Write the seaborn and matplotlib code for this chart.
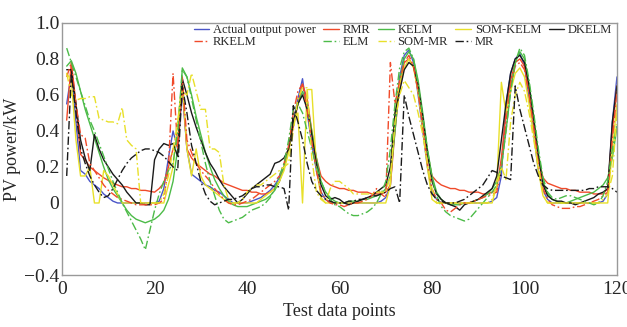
import numpy as np
import pandas as pd
import matplotlib
matplotlib.use("Agg")
import matplotlib.pyplot as plt
import seaborn as sns

x = list(range(1, 121))

actual = [.55,.72,.45,.18,.16,.12,.10,.08,.05,.03,.01,0,
          0,0,0,0,0,0,0,0,.01,.08,.25,.40,
          .30,.62,.30,.16,.14,.12,.10,.09,.07,.06,.04,.02,
          0,0,0,0,.01,.02,.03,.05,.07,.10,.14,.20,
          .30,.45,.58,.69,.50,.33,.18,.06,.02,0,0,0,
          0,0,0,0,0,0,0,0,.01,.03,.10,.45,
          .70,.82,.85,.78,.60,.40,.20,.06,.02,0,0,0,
          0,0,0,0,0,0,0,0,.01,.03,.15,.55,
          .72,.80,.83,.76,.58,.38,.18,.07,.02,0,0,0,
          0,0,0,0,0,0,0,0,.01,.05,.45,.70]
rmr = [.46,.78,.55,.27,.24,.20,.18,.16,.14,.125,.11,.10,
       .09,.09,.08,.08,.07,.07,.065,.06,.08,.11,.20,.30,
       .33,.65,.30,.25,.22,.20,.18,.16,.15,.13,.11,.10,
       .09,.08,.07,.07,.06,.06,.05,.05,.06,.08,.12,.20,
       .30,.42,.55,.66,.58,.40,.25,.15,.12,.10,.09,.08,
       .08,.07,.07,.06,.06,.06,.05,.05,.05,.06,.10,.40,
       .65,.78,.80,.76,.62,.45,.28,.15,.12,.10,.09,.08,
       .08,.07,.07,.06,.06,.06,.05,.05,.06,.08,.25,.50,
       .68,.78,.80,.76,.62,.44,.26,.14,.11,.10,.09,.08,
       .08,.07,.07,.06,.06,.06,.05,.05,.05,.08,.40,.65]
kelm = [.76,.79,.72,.62,.52,.44,.36,.28,.20,.13,.08,.04,
        0,-.04,-.07,-.09,-.10,-.11,-.10,-.09,-.07,-.04,.02,.12,
        .30,.75,.70,.60,.48,.38,.28,.20,.13,.08,.04,.01,
        -.01,-.02,-.02,-.02,-.01,0,.01,.02,.04,.07,.12,.20,
        .30,.45,.55,.62,.55,.40,.25,.12,.06,.03,.01,0,
        0,.01,.01,.01,.02,.02,.03,.04,.05,.08,.15,.40,
        .68,.80,.84,.80,.68,.50,.30,.15,.06,.02,0,-.01,
        -.01,-.01,0,0,.01,.02,.03,.05,.08,.12,.20,.40,
        .62,.78,.84,.80,.66,.48,.28,.12,.05,.02,.01,0,
        0,.01,.02,.03,.04,.05,.06,.08,.10,.14,.25,.42]
som_kelm = [.72,.68,.35,.15,.15,.20,0,0,.18,.15,.10,.05,
            0,0,0,0,0,0,0,0,0,0,.10,.20,
            .45,.68,.30,.15,.30,.15,.10,.08,.06,.04,.02,0,
            0,0,0,0,0,0,.02,.04,.06,.08,.12,.18,
            .28,.45,.50,0,.63,.63,.20,.03,0,0,0,0,
            0,0,0,0,0,0,0,0,0,0,.10,.50,
            .66,.75,.80,.75,.62,.42,.20,.02,0,0,0,0,
            0,0,0,0,0,0,0,0,0,.10,.67,.50,
            .62,.72,.75,.70,.55,.38,.18,.04,0,0,0,0,
            0,0,0,0,0,0,0,0,0,0,.30,.55]
dkelm = [.74,.74,.55,.35,.25,.18,.38,.30,.24,.20,.16,.13,
         .10,.06,.03,0,0,-.01,-.01,.24,.30,.33,.32,.33,
         .26,.69,.60,.50,.42,.35,.28,.22,.18,.13,.09,.06,
         .03,0,.02,.05,.08,.10,.12,.14,.16,.22,.23,.25,
         .30,.45,.55,.60,.52,.38,.22,.10,.04,.02,.03,.02,
         0,-.01,0,.01,.02,.03,.04,.06,.08,.10,.20,.50,
         .62,.74,.78,.76,.65,.48,.28,.12,.05,.02,0,-.01,
         -.02,-.04,-.01,0,.01,.02,.04,.06,.08,.15,.35,.55,
         .72,.80,.82,.78,.65,.46,.26,.10,.04,.02,.01,.01,
         0,0,-.01,0,.01,.02,.03,.05,.06,.08,.45,.65]
rkelm = [.70,.78,.55,.38,.36,.22,.18,.14,.10,.07,.05,.03,
         .02,.01,0,-.01,-.01,-.01,-.01,-.01,0,.02,.20,.72,
         .30,.70,.35,.28,.22,.18,.15,.12,.08,.05,.02,0,
         -.01,-.01,0,.01,.02,.04,.06,.08,.10,.12,.15,.22,
         .32,.50,.62,.66,.52,.34,.18,.06,.02,0,-.01,-.01,
         -.02,-.01,0,0,.01,.02,.04,.08,.05,.03,.78,.55,
         .68,.78,.82,.76,.62,.42,.22,.08,.02,0,-.04,-.05,
         -.03,-.01,0,0,.01,.02,.03,.04,.05,.06,.20,.45,
         .65,.76,.78,.74,.60,.42,.22,.08,.02,-.01,-.02,-.03,
         -.03,-.03,-.02,-.02,-.01,0,.01,.02,.04,.06,.35,.62]
elm = [.86,.78,.70,.62,.54,.46,.40,.33,.26,.19,.12,.06,
       0,-.05,-.10,-.15,-.20,-.26,-.15,-.04,.05,.12,.18,.22,
       .40,.74,.70,.58,.46,.34,.22,.12,.04,-.04,-.09,-.11,
       -.10,-.09,-.08,-.06,-.04,-.03,-.02,0,.03,.08,.15,.22,
       .35,.52,.55,.50,.40,.30,.20,.12,.06,.02,-.01,-.02,
       -.04,-.06,-.07,-.07,-.06,-.05,-.03,0,.05,.12,.30,.55,
       .75,.84,.86,.80,.66,.48,.30,.14,.04,-.02,-.05,-.07,
       -.08,-.09,-.10,-.09,-.06,-.03,0,.03,.06,.10,.20,.40,
       .62,.78,.86,.82,.68,.50,.30,.14,.06,.03,.02,.03,
       .04,.04,.03,.02,.01,0,-.01,0,.04,.12,.30,.44]
som_mr = [.72,.60,.57,.58,.58,.59,.59,.47,.46,.45,.45,.44,
          .53,.35,.32,.30,0,0,0,0,0,.05,.15,.30,
          .45,.62,.60,.72,.62,.52,.52,.30,.30,.28,.10,.02,
          0,0,.02,.06,.08,.10,.10,.12,.14,.16,.18,.20,
          .22,.40,.58,.64,.64,.25,.06,.02,0,.08,.12,.12,
          .10,.08,.05,.05,.05,.05,.05,.06,.06,.06,.15,.45,
          .60,.68,.64,.60,.50,.38,.22,.08,0,0,0,0,
          0,0,0,0,0,0,0,0,.02,.10,.20,.13,
          .45,.60,.67,.62,.50,.35,.20,.05,0,0,0,0,
          0,0,0,0,0,0,0,0,.02,.05,.15,.50]
mr = [.15,.72,.50,.30,.22,.15,.10,.06,.03,.04,.08,.13,
      .18,.22,.25,.27,.29,.30,.30,.29,.28,.26,.23,.20,
      .18,.65,.50,.32,.22,.12,.05,.01,-.01,0,.01,.02,
      .02,.03,.04,.06,.08,.09,.09,.10,.10,.09,.09,.08,
      -.04,.54,.45,.35,.22,.12,.07,.04,.02,.01,0,0,
      0,.01,.01,.02,.02,.03,.04,.04,.05,.06,.08,.09,
      0,.60,.48,.38,.28,.18,.10,.05,.02,.01,0,0,
      0,.01,.02,.04,.06,.08,.10,.14,.18,.17,.15,.14,
      .13,.65,.52,.42,.32,.22,.15,.10,.08,.07,.07,.07,
      .07,.07,.07,.07,.07,.08,.08,.09,.09,.09,.08,.06]

series_names = ["Actual output power", "RKELM", "RMR", "ELM", "KELM",
                "SOM-MR", "SOM-KELM", "MR", "DKELM"]
series_values = [actual, rkelm, rmr, elm, kelm, som_mr, som_kelm, mr, dkelm]

blue, red, green, yellow, black = "#4a55c8", "#f04a2a", "#4cbb48", "#e8e02a", "#1a1a1a"
colors = {"Actual output power": blue, "RKELM": red, "RMR": red, "ELM": green,
          "KELM": green, "SOM-MR": yellow, "SOM-KELM": yellow, "MR": black, "DKELM": black}
dashdot = (0, (6, 2, 1.2, 2))
styles = {"Actual output power": "-", "RKELM": dashdot, "RMR": "-", "ELM": dashdot,
          "KELM": "-", "SOM-MR": dashdot, "SOM-KELM": "-", "MR": dashdot, "DKELM": "-"}

sns.set_style("white")
plt.rcParams["font.family"] = ["Liberation Serif", "DejaVu Serif"]

fig = plt.figure(figsize=(6.27, 3.27), dpi=100)
ax = fig.add_axes([0.099, 0.159, 0.885, 0.771])

draw_order = ["Actual output power", "RMR", "KELM", "SOM-KELM", "DKELM",
              "RKELM", "ELM", "SOM-MR", "MR"]
for name in draw_order:
    vals = series_values[series_names.index(name)]
    df = pd.DataFrame({"x": x, "y": vals})
    sns.lineplot(data=df, x="x", y="y", ax=ax, color=colors[name],
                 linestyle=styles[name], linewidth=1.0, label=name)

ax.set_xlim(0, 120)
ax.set_ylim(-0.4, 1.0)
ax.set_xticks([0, 20, 40, 60, 80, 100, 120])
ax.set_yticks([-0.4, -0.2, 0, 0.2, 0.4, 0.6, 0.8, 1.0])
ax.set_yticklabels(["\u22120.4", "\u22120.2", "0", "0.2", "0.4", "0.6", "0.8", "1.0"])
ax.tick_params(axis="both", direction="in", length=4, width=0.8, color="#888888",
               labelsize=14, pad=2)
ax.tick_params(axis="x", pad=4)
for sp in ax.spines.values():
    sp.set_color("#999999")
    sp.set_linewidth(1.0)
ax.set_xlabel("Test data points", fontsize=13, labelpad=4)
ax.set_ylabel("PV power/kW", fontsize=13, labelpad=2)

handles, labels = ax.get_legend_handles_labels()
hmap = dict(zip(labels, handles))
order = [hmap[n] for n in series_names]
leg = ax.legend(order, series_names, ncol=5, loc="upper right",
                bbox_to_anchor=(1.005, 1.025), frameon=False, fontsize=9,
                handlelength=1.25, handletextpad=0.3, columnspacing=0.6,
                labelspacing=0.0, borderaxespad=0.2)

fig.savefig("out.png", dpi=100)
